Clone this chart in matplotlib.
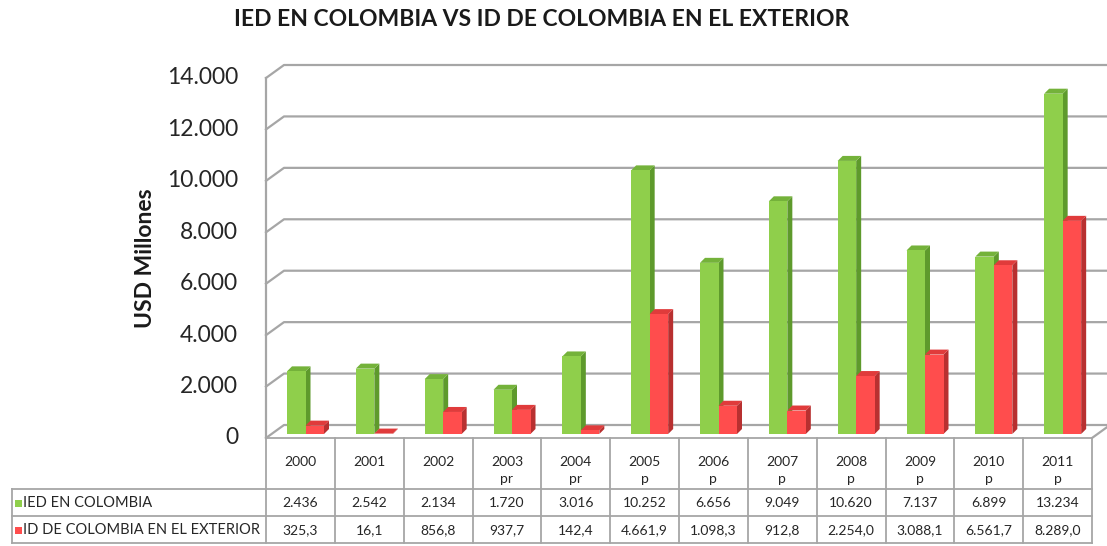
import numpy as np
import matplotlib
matplotlib.use('Agg')
import matplotlib.pyplot as plt
from matplotlib.patches import Polygon, Rectangle

plt.rcParams['font.family'] = ['Lato', 'DejaVu Sans']

# ---------------------------------------------------------------------------
# Data
# ---------------------------------------------------------------------------
years = ['2000', '2001', '2002', '2003', '2004', '2005',
         '2006', '2007', '2008', '2009', '2010', '2011']
year_notes = ['', '', '', 'pr', 'pr', 'p', 'p', 'p', 'p', 'p', 'p', 'p']
ied_colombia = [2436, 2542, 2134, 1720, 3016, 10252,
                6656, 9049, 10620, 7137, 6899, 13234]
id_exterior = [325.3, 16.1, 856.8, 937.7, 142.4, 4661.9,
               1098.3, 912.8, 2254.0, 3088.1, 6561.7, 8289.0]
ied_labels = ['2.436', '2.542', '2.134', '1.720', '3.016', '10.252',
              '6.656', '9.049', '10.620', '7.137', '6.899', '13.234']
id_labels = ['325,3', '16,1', '856,8', '937,7', '142,4', '4.661,9',
             '1.098,3', '912,8', '2.254,0', '3.088,1', '6.561,7', '8.289,0']
series_names = ['IED EN COLOMBIA', 'ID DE COLOMBIA EN EL EXTERIOR']
yticks = [0, 2000, 4000, 6000, 8000, 10000, 12000, 14000]
ytick_labels = ['0', '2.000', '4.000', '6.000', '8.000', '10.000', '12.000', '14.000']

GREEN = ('#8fcf4b', '#5e9a2c', '#74b23a')   # front, side, top
RED = ('#ff4d4d', '#b83030', '#e03b3b')
GRID = '#a6a6a6'

W, H = 1107, 546
fig = plt.figure(figsize=(W / 100, H / 100), dpi=100)

# front plane of the 3D box, in pixels
X0, X1 = 266, 1092
Y0, Y1 = 438, 78
YMAX = 14000
ax = fig.add_axes([X0 / W, (H - Y0) / H, (X1 - X0) / W, (Y0 - Y1) / H])
n = len(years)
ax.set_xlim(-0.5, n - 0.5)
ax.set_ylim(0, YMAX)
ax.axis('off')

px_x = (X1 - X0) / n          # pixels per category
px_y = (Y0 - Y1) / YMAX       # pixels per value unit

# wall depth offsets
wdx, wdy = 18 / px_x, 13 / px_y
# bar geometry
bw = 18.5 / px_x
bdx, bdy = 5 / px_x, 5 / px_y
base = 4 / px_y
start = 21 / px_x

# back wall gridlines with diagonal on left wall
for v in yticks:
    ax.plot([-0.5, -0.5 + wdx, n - 0.5 + wdx], [v, v + wdy, v + wdy],
            color=GRID, lw=1.6, clip_on=False, zorder=1)
# left wall front edge and floor
ax.plot([-0.5, -0.5], [0, YMAX], color=GRID, lw=1.6, clip_on=False, zorder=1)
ax.plot([n - 0.5, n - 0.5 + wdx], [0, wdy], color=GRID, lw=1.6, clip_on=False, zorder=1)


def bar3d(x, h, cols):
    y0, y1 = base, base + h
    ax.add_patch(Polygon([[x + bw, y0], [x + bw + bdx, y0 + bdy],
                          [x + bw + bdx, y1 + bdy], [x + bw, y1]],
                         closed=True, fc=cols[1], ec='none', zorder=3, clip_on=False))
    ax.add_patch(Polygon([[x, y1], [x + bdx, y1 + bdy],
                          [x + bw + bdx, y1 + bdy], [x + bw, y1]],
                         closed=True, fc=cols[2], ec='none', zorder=3, clip_on=False))
    ax.add_patch(Rectangle((x, y0), bw, h, fc=cols[0], ec='none', zorder=3, clip_on=False))


for i in range(n):
    xl = i - 0.5 + start
    bar3d(xl, ied_colombia[i], GREEN)
    bar3d(xl + bw, id_exterior[i], RED)

# y tick labels
for v, lab in zip(yticks, ytick_labels):
    ax.text(-0.5 - 28 / px_x, v, lab, ha='right', va='center',
            fontsize=16.5, color='#262626')

fig.text(145 / W, 1 - 258 / H, 'USD Millones', rotation=90, ha='center',
         va='center', fontsize=16.5, fontweight='bold', color='#1a1a1a')
fig.text(542 / W, 1 - 20 / H, 'IED EN COLOMBIA VS ID DE COLOMBIA EN EL EXTERIOR',
         ha='center', va='center', fontsize=16.5, fontweight='bold', color='#1a1a1a')

# ---------------------------------------------------------------------------
# Data table (pixel coordinates)
# ---------------------------------------------------------------------------
tab = fig.add_axes([0, 0, 1, 1])
tab.set_xlim(0, W)
tab.set_ylim(H, 0)
tab.axis('off')

LBL_X = 12
ROW_Y = [438, 489, 516, 543]
edges = [X0 + k * px_x for k in range(n + 1)]
lkw = dict(color=GRID, lw=1.3)

tab.plot([X0, X1], [ROW_Y[0], ROW_Y[0]], **lkw)
for y in ROW_Y[1:]:
    tab.plot([LBL_X, X1], [y, y], **lkw)
for k, xe in enumerate(edges):
    tab.plot([xe, xe], [ROW_Y[0], ROW_Y[3]], **lkw)
tab.plot([LBL_X, LBL_X], [ROW_Y[1], ROW_Y[3]], **lkw)

tkw = dict(fontsize=10, color='#262626', ha='center', va='center')
for i in range(n):
    xc = (edges[i] + edges[i + 1]) / 2
    tab.text(xc, 462, years[i], **tkw)
    if year_notes[i]:
        tab.text(xc, 479, year_notes[i], **tkw)
    tab.text(xc, 503, ied_labels[i], **tkw)
    tab.text(xc, 530, id_labels[i], **tkw)

for (ry, name, col) in [(503, series_names[0], GREEN[0]), (530, series_names[1], RED[0])]:
    tab.add_patch(Rectangle((15, ry - 3.5), 7, 7, fc=col, ec='none'))
    tab.text(23, ry, name, fontsize=10.5, color='#262626', ha='left', va='center')

fig.savefig('out.png', dpi=100)
